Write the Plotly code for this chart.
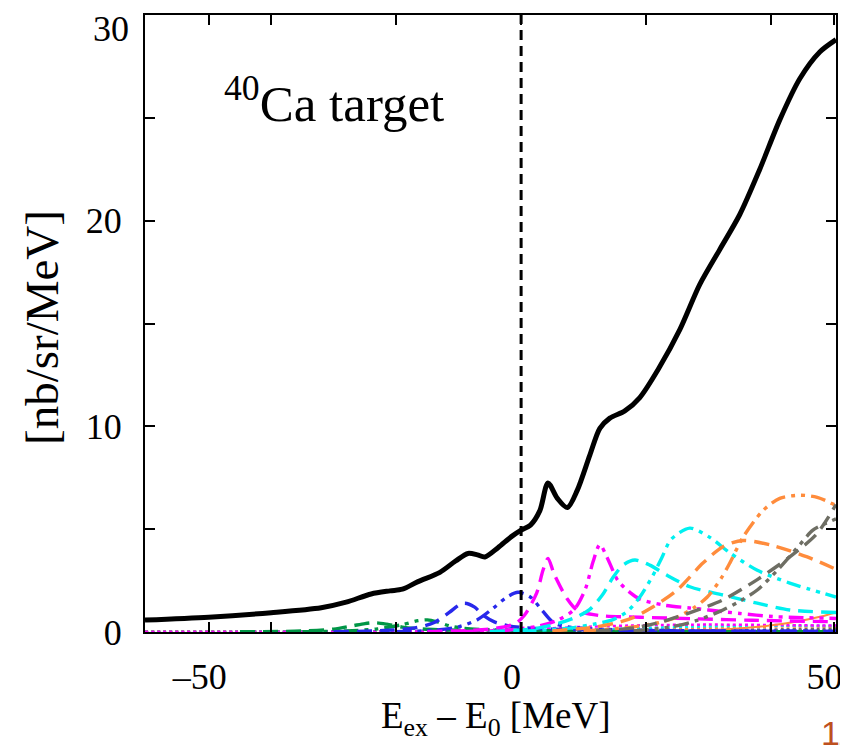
import plotly.graph_objects as go

# ---- data ----
total_x = [-60.2, -50, -40, -32, -28, -24, -21, -19, -16.5, -13, -10.5, -8.5, -7, -5.8, -3.7, -1.5, 0,
           1.5, 3, 4.3, 5.8, 7.4, 9, 11, 12.6, 14.2, 16.6, 19, 22, 25.4, 28.6, 31.8, 35, 38.2, 41.4,
           44.6, 47.8, 50.4]
total_y = [0.58, 0.72, 0.94, 1.18, 1.45, 1.85, 2.0, 2.08, 2.45, 2.9, 3.45, 3.82, 3.75, 3.65, 4.1, 4.65, 4.95,
           5.2, 5.9, 7.25, 6.5, 6.05, 6.9, 8.6, 9.9, 10.4, 10.75, 11.4, 12.8, 14.7, 16.9, 18.6, 20.3, 22.5, 24.9,
           26.9, 28.2, 28.8]

green_a_x = [-45, -35, -30, -27, -25, -23.4, -21.5, -19, -16, -12, -6, 0, 20, 50.4]
green_a_y = [0.01, 0.05, 0.14, 0.3, 0.41, 0.45, 0.38, 0.24, 0.15, 0.1, 0.06, 0.04, 0.02, 0.01]
green_b_x = [-35, -28, -23, -19, -16.5, -15, -13.5, -11.5, -9, -5, 0, 10, 30, 50.4]
green_b_y = [0.01, 0.05, 0.15, 0.36, 0.55, 0.59, 0.5, 0.3, 0.17, 0.11, 0.08, 0.04, 0.02, 0.01]

blue_a_x = [-30, -22, -17, -14, -11.5, -10, -9, -7.5, -6, -4.2, -2, 0, 5, 15, 30, 50.4]
blue_a_y = [0.01, 0.07, 0.2, 0.45, 0.95, 1.3, 1.4, 1.22, 0.8, 0.48, 0.3, 0.22, 0.14, 0.08, 0.05, 0.03]
blue_b_x = [-20, -14, -10, -7, -4.5, -2.5, -0.5, 1.5, 3.5, 5.2, 7.5, 11, 18, 30, 50.4]
blue_b_y = [0.02, 0.08, 0.25, 0.6, 1.15, 1.65, 1.93, 1.7, 1.0, 0.45, 0.25, 0.16, 0.09, 0.05, 0.03]

mag_a_x = [-15, -8, -4, -1, 0.5, 2.5, 3.5, 4.3, 5.3, 7.4, 9, 12.6, 19, 28, 37, 50.4]
mag_a_y = [0.02, 0.08, 0.18, 0.4, 0.8, 1.9, 3.0, 3.58, 2.8, 1.6, 1.05, 0.8, 0.72, 0.64, 0.57, 0.5]
mag_b_x = [-10, -2, 3, 6, 8.5, 10.3, 11.5, 12.6, 13.8, 15.5, 17.5, 19, 23, 27, 30, 35, 40.3, 45, 50.4]
mag_b_y = [0.02, 0.1, 0.3, 0.6, 1.1, 2.1, 3.4, 4.25, 3.6, 2.5, 1.9, 1.6, 1.3, 1.17, 1.07, 0.9, 0.75, 0.7, 0.66]

cyan_a_x = [-5, 2, 6.2, 9, 11, 13, 14.7, 16.3, 18.2, 20.6, 23.4, 27, 32.3, 37.8, 43, 50.4]
cyan_a_y = [0.02, 0.15, 0.44, 0.75, 1.1, 1.8, 2.65, 3.25, 3.5, 3.25, 2.75, 2.2, 1.8, 1.4, 1.07, 0.95]
cyan_b_x = [0, 8, 12, 14.7, 17, 19, 21, 22.5, 24, 27, 30.2, 33.4, 37.8, 43, 50.4]
cyan_b_y = [0.03, 0.2, 0.4, 0.6, 1.0, 1.7, 2.7, 3.6, 4.5, 5.05, 4.6, 3.85, 3.0, 2.38, 1.7]

orange_a_x = [5, 12, 16, 17.9, 21, 25, 29.1, 32.3, 35.5, 40.3, 45.8, 50.4]
orange_a_y = [0.05, 0.25, 0.5, 0.7, 1.2, 2.05, 3.35, 4.15, 4.45, 4.2, 3.65, 3.05]
orange_b_x = [10, 18, 22, 25, 27.5, 29.8, 32, 33.4, 35.5, 38.7, 41.4, 44.6, 47.4, 50.4]
orange_b_y = [0.05, 0.25, 0.45, 0.73, 1.15, 1.7, 2.6, 3.35, 4.6, 5.9, 6.5, 6.65, 6.55, 6.15]

gray_a_x = [12, 18, 22, 25, 28.5, 32.3, 37.8, 43, 47.4, 50.4]
gray_a_y = [0.05, 0.2, 0.45, 0.73, 1.1, 1.56, 2.55, 3.65, 4.8, 6.2]
gray_b_x = [18, 24, 28, 32.3, 35, 37.8, 41, 44.2, 46.7, 48.5, 50.4]
gray_b_y = [0.05, 0.25, 0.55, 1.07, 1.5, 2.04, 3.0, 4.1, 4.95, 5.25, 5.5]

# small contributions near the baseline (dotted)
small_x = [-60.2, -40, -20, -10, 0, 10, 20, 30, 40, 50.4]
small_mag_y = [0.0, 0.0, 0.02, 0.05, 0.12, 0.25, 0.33, 0.36, 0.34, 0.31]
small_cyan_y = [0.0, 0.0, 0.0, 0.02, 0.05, 0.1, 0.2, 0.28, 0.3, 0.3]
small_orange_y = [0.0, 0.0, 0.0, 0.0, 0.02, 0.05, 0.1, 0.2, 0.26, 0.28]
small_blue_y = [0.0, 0.01, 0.04, 0.08, 0.12, 0.13, 0.12, 0.1, 0.09, 0.08]
small_gray_y = [0.0, 0.0, 0.0, 0.0, 0.0, 0.01, 0.03, 0.07, 0.12, 0.18]
small_red_y = [0.02, 0.02, 0.03, 0.03, 0.04, 0.05, 0.05, 0.05, 0.05, 0.05]
orange_rise_x = [20, 30, 38, 44, 48, 50.4]
orange_rise_y = [0.02, 0.08, 0.25, 0.5, 0.75, 0.95]

threshold_x = 0
y_ticks = [0, 5, 10, 15, 20, 25, 30]
y_ticktext = ["0", "", "10", "", "20", "", ""]
y_top_label = "30"
x_ticks = [-50, -40, -20, 0, 20, 40, 50]
x_ticktext = ["\u201350", "", "", "0", "", "", "50"]

GREEN = "rgb(0,150,70)"
BLUE = "rgb(40,40,235)"
MAG = "rgb(255,0,255)"
CYAN = "rgb(0,240,240)"
ORANGE = "rgb(255,140,60)"
GRAY = "rgb(110,110,100)"

DASH = "15px,8px"
DDD = "15px,6px,4px,6px,4px,6px"
DOT = "3px,3px"

fig = go.Figure()

def add(x, y, color, dash, width=3.4):
    fig.add_trace(go.Scatter(x=x, y=y, mode="lines",
                             line=dict(color=color, dash=dash, width=width, shape="spline", smoothing=0.8),
                             hoverinfo="skip", showlegend=False))

for yy, c in [(small_red_y, "rgb(230,60,60)"), (small_blue_y, BLUE), (small_gray_y, GRAY),
              (small_orange_y, ORANGE), (small_cyan_y, CYAN), (small_mag_y, MAG)]:
    add(small_x, yy, c, DOT, 2.5)
add(orange_rise_x, orange_rise_y, ORANGE, "solid", 2)

add(green_a_x, green_a_y, GREEN, DASH)
add(green_b_x, green_b_y, GREEN, DDD)
add(blue_a_x, blue_a_y, BLUE, DASH)
add(blue_b_x, blue_b_y, BLUE, DDD)
add(mag_a_x, mag_a_y, MAG, DASH)
add(mag_b_x, mag_b_y, MAG, DDD)
add(cyan_a_x, cyan_a_y, CYAN, DASH)
add(cyan_b_x, cyan_b_y, CYAN, DDD)
add(orange_a_x, orange_a_y, ORANGE, DASH)
add(orange_b_x, orange_b_y, ORANGE, DDD)
add(gray_a_x, gray_a_y, GRAY, DASH)
add(gray_b_x, gray_b_y, GRAY, DDD)

# vertical threshold line
fig.add_trace(go.Scatter(x=[threshold_x, threshold_x], y=[0, 30], mode="lines",
                         line=dict(color="black", dash="10px,6px", width=3),
                         hoverinfo="skip", showlegend=False))

# total
fig.add_trace(go.Scatter(x=total_x, y=total_y, mode="lines",
                         line=dict(color="black", width=5, shape="spline", smoothing=0.8),
                         hoverinfo="skip", showlegend=False))

SERIF = "Liberation Serif"
OFF = 8  # page body margin offset
W, H = 848, 747
# plot area in page pixels: x 145..836, y 15..632
L = 145 - OFF
T = 15 - OFF
R = W - (836 - OFF)
B = H - (632 - OFF)
PW, PH = W - L - R, H - T - B


def px_to_paper(px, py):
    return (px - OFF - L) / PW, (H - B - (py - OFF)) / PH


tx, ty = px_to_paper(222, 100)
xl_x, xl_y = px_to_paper(496, 718)
yl_x, yl_y = px_to_paper(42, 328)
pn_x, pn_y = px_to_paper(819, 733)
y30_x, y30_y = px_to_paper(131, 29)

fig.update_layout(
    width=W, height=H,
    margin=dict(l=L, r=R, t=T, b=B, autoexpand=False),
    plot_bgcolor="white", paper_bgcolor="white",
    font=dict(family=SERIF, color="black"),
    xaxis=dict(range=[-60.2, 50.4], tickvals=x_ticks, ticktext=x_ticktext,
               ticks="inside", ticklen=10, tickwidth=1.5, tickcolor="black",
               showline=True, linecolor="black", linewidth=2, mirror="ticks",
               showgrid=False, zeroline=False, tickfont=dict(size=36, family=SERIF),
               ticklabelstandoff=12, ticklabelshift=-9, ticklabeloverflow="allow", automargin=False),
    yaxis=dict(range=[0, 30], tickvals=y_ticks, ticktext=y_ticktext,
               ticks="inside", ticklen=10, tickwidth=1.5, tickcolor="black",
               showline=True, linecolor="black", linewidth=2, mirror="ticks",
               showgrid=False, zeroline=False, tickfont=dict(size=36, family=SERIF),
               ticklabelstandoff=14, ticklabeloverflow="allow", automargin=False),
    annotations=[
        dict(text=y_top_label, xref="paper", yref="paper", x=y30_x, y=y30_y,
             xanchor="right", yanchor="middle", showarrow=False, font=dict(size=36, family=SERIF)),
        dict(text="<sup>40</sup>Ca target", xref="paper", yref="paper", x=tx, y=ty,
             xanchor="left", yanchor="middle", showarrow=False, font=dict(size=51, family=SERIF)),
        dict(text="E<sub>ex</sub> \u2013 E<sub>0</sub> [MeV]", xref="paper", yref="paper", x=xl_x, y=xl_y,
             xanchor="center", yanchor="middle", showarrow=False, font=dict(size=37, family=SERIF)),
        dict(text="[nb/sr/MeV]", xref="paper", yref="paper", x=yl_x, y=yl_y, textangle=-90,
             xanchor="center", yanchor="middle", showarrow=False, font=dict(size=47, family=SERIF)),
        dict(text="11", xref="paper", yref="paper", x=pn_x, y=pn_y,
             xanchor="left", yanchor="middle", showarrow=False,
             font=dict(size=34, family="Liberation Sans", color="rgb(190,80,30)")),
    ],
)

fig.write_html("out.html")
